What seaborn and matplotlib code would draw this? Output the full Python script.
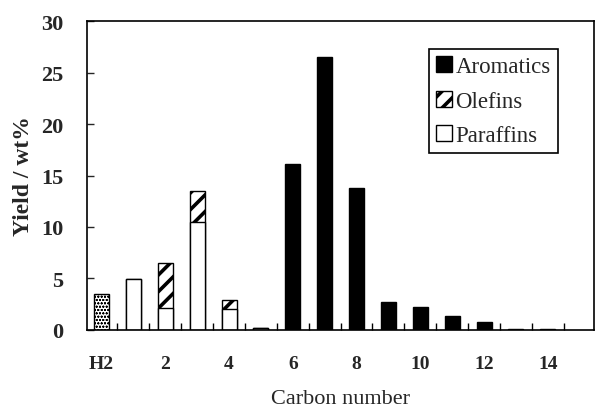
import numpy as np
import pandas as pd
import matplotlib
matplotlib.use("Agg")
import matplotlib.pyplot as plt
from matplotlib.patches import Patch
import seaborn as sns

# ---- data ----
categories = ['H2', '1', '2', '3', '4', '5', '6', '7', '8', '9', '10', '11', '12', '13', '14', '15']
hydrogen   = [3.5, 0, 0, 0, 0, 0, 0, 0, 0, 0, 0, 0, 0, 0, 0, 0]
paraffins  = [0, 4.9, 2.1, 10.5, 2.0, 0.15, 0, 0, 0, 0, 0, 0, 0, 0, 0, 0]
olefins    = [0, 0, 4.4, 3.0, 0.9, 0, 0, 0, 0, 0, 0, 0, 0, 0, 0, 0]
aromatics  = [0, 0, 0, 0, 0, 0, 16.1, 26.5, 13.8, 2.7, 2.2, 1.3, 0.8, 0.1, 0.05, 0]
tick_labels = ['H2', '2', '4', '6', '8', '10', '12', '14']
series_labels = ['Aromatics', 'Olefins', 'Paraffins']

df = pd.DataFrame({
    'cat': categories,
    'hydrogen': hydrogen,
    'paraffins': paraffins,
    'olefins': olefins,
    'aromatics': aromatics,
})
df['par_ole'] = df['paraffins'] + df['olefins']

sns.set_style('ticks')
plt.rcParams['font.family'] = ['Liberation Serif', 'DejaVu Serif']
plt.rcParams['hatch.linewidth'] = 2.6
plt.rcParams['hatch.color'] = 'black'

fig, ax = plt.subplots(figsize=(5.97, 4.10), dpi=100)
fig.subplots_adjust(left=0.146, right=0.995, top=0.946, bottom=0.193)

W = 0.47
common = dict(x='cat', order=categories, width=W, edgecolor='black', linewidth=1.0, ax=ax,
              errorbar=None, saturation=1)

# olefins stacked on paraffins: draw total first (hatched) then paraffins over it
sns.barplot(data=df, y='par_ole', color='white', hatch='//', **common)
sns.barplot(data=df, y='paraffins', color='white', **common)
sns.barplot(data=df, y='aromatics', color='black', **common)
sns.barplot(data=df, y='hydrogen', color='white', hatch='ooooo', **common)

# hide zero-height bars' edges
for p in ax.patches:
    if p.get_height() <= 0:
        p.set_visible(False)

# thin dots for H2 bar
for p in ax.containers[-1]:
    if hasattr(p, 'set_hatch_linewidth'):
        p.set_hatch_linewidth(0.5)

ax.set_xlim(-0.45, 15.45)
ax.set_ylim(0, 30)
ax.set_yticks([0, 5, 10, 15, 20, 25, 30])
ax.set_xticks(np.arange(0, 16, 2))
ax.set_xticklabels(tick_labels)
ax.set_xticks(np.arange(0.5, 15, 1), minor=True)

ax.tick_params(axis='x', which='major', length=0, pad=18, labelsize=14)
for t in ax.get_xticklabels():
    t.set_fontweight('bold')
ax.tick_params(axis='x', which='minor', direction='in', length=5, width=1, color='black')
ax.tick_params(axis='y', which='major', direction='in', length=5, width=1, pad=17, labelsize=16)
for t in ax.get_yticklabels():
    t.set_fontweight('bold')

for s in ax.spines.values():
    s.set_visible(True)
    s.set_color('black')
    s.set_linewidth(1.2)

ax.set_xlabel('Carbon number', fontsize=16, labelpad=12)
ax.set_ylabel('Yield / wt%', fontsize=17, fontweight='bold', labelpad=5)

handles = [Patch(facecolor='black', edgecolor='black'),
           Patch(facecolor='white', edgecolor='black', hatch='//'),
           Patch(facecolor='white', edgecolor='black')]
leg = ax.legend(handles, series_labels, loc='upper right', bbox_to_anchor=(0.928, 0.91),
                fontsize=16.5, frameon=True, fancybox=False, framealpha=1, edgecolor='black',
                handlelength=0.7, handleheight=0.7, handletextpad=0.15, labelspacing=0.6,
                borderpad=0.3, borderaxespad=0)
leg.get_frame().set_linewidth(1.2)

fig.savefig('out.png', dpi=100)
